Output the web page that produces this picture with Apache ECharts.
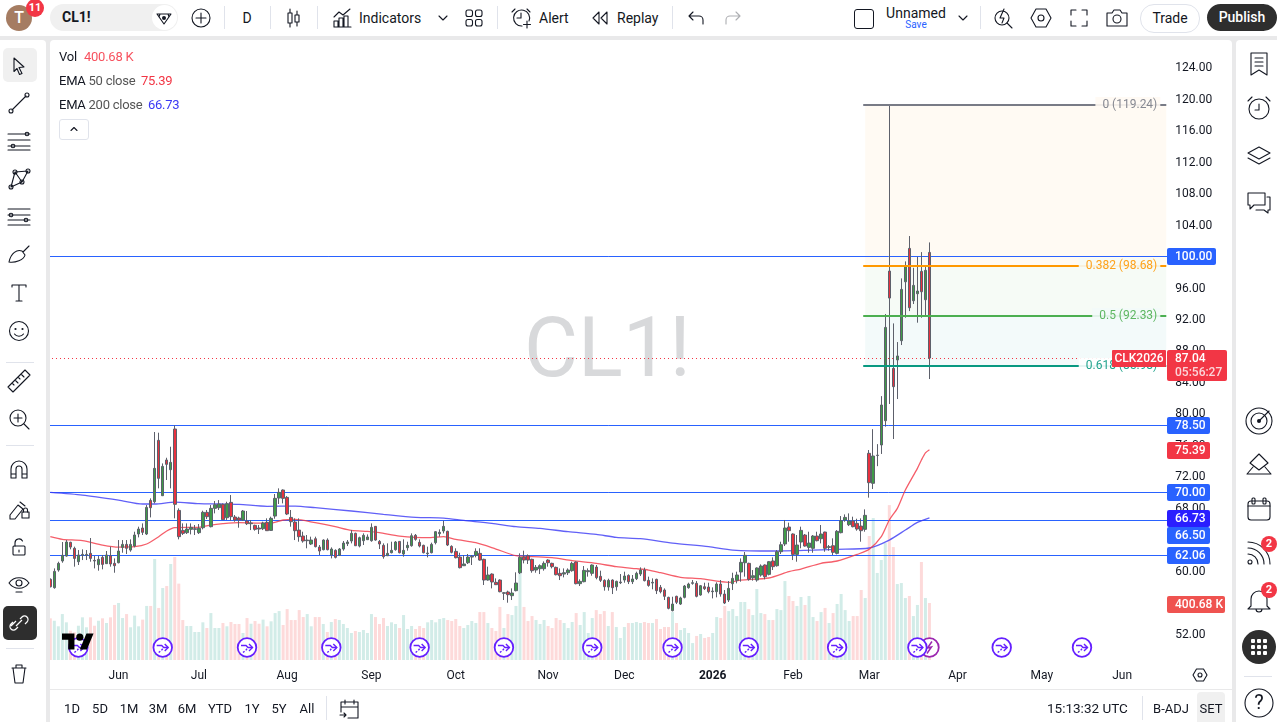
<!DOCTYPE html>
<html>
<head>
<meta charset="utf-8">
<title>CL1! daily</title>
<script src="https://cdn.jsdelivr.net/npm/echarts@6/dist/echarts.min.js"></script>
<style>
html,body{margin:0;padding:0;width:1277px;height:722px;overflow:hidden;background:#e9e9ea;font-family:Roboto,"Noto Sans",sans-serif;color:#131722}
.abs{position:absolute}
#pane{position:absolute;left:50px;top:40px;width:1182px;height:682px;background:#fff;border-radius:4px 4px 0 0}
#chart{position:absolute;left:0;top:0;width:1277px;height:722px;z-index:1}
#ui{position:absolute;left:0;top:0;width:1277px;height:722px;z-index:2;pointer-events:none}
.t{position:absolute;white-space:nowrap;line-height:1}
.sep{position:absolute;background:#e0e3eb}
svg{position:absolute;overflow:visible}
svg .s{fill:none;stroke:#131722;stroke-width:1.1;stroke-linecap:round;stroke-linejoin:round}
svg .f{fill:#131722;stroke:none}
</style>
</head>
<body>
<div id="pane"></div>
<div id="chart"></div>
<div id="ui"></div>
<script>
// Daily crude oil futures: [open, close, low, high] per session
const candles = [
[58.92,57.98,57.90,59.04],[57.86,59.93,57.73,60.31],[60.10,60.95,59.89,61.16],[61.25,61.97,61.03,63.66],[61.88,63.66,61.80,63.91],
[63.62,63.02,62.73,63.70],[62.86,61.58,60.53,63.07],[61.16,62.01,60.74,62.64],[61.97,62.09,61.37,62.73],[61.97,62.09,61.37,62.64],
[62.22,61.58,61.16,64.17],[61.33,61.25,60.31,61.88],[60.78,61.46,60.02,61.88],[61.71,60.82,60.19,62.01],[60.91,62.01,60.87,62.52],
[61.92,60.87,60.53,63.07],[60.95,60.65,59.76,61.58],[61.03,62.52,60.95,63.91],[62.98,63.36,62.30,63.91],[63.36,62.86,62.14,63.91],
[62.64,63.36,62.43,64.00],[63.15,64.55,62.98,64.97],[64.68,65.31,64.25,65.61],[65.44,64.89,64.55,66.03],[64.68,68.06,64.55,68.36],
[68.95,68.02,66.79,69.21],[68.78,73.02,68.57,77.64],[76.58,71.75,70.48,77.55],[69.55,73.27,69.50,73.65],[74.08,73.53,71.54,74.37],
[72.85,73.78,70.48,75.77],[78.02,68.45,66.67,78.48],[67.68,64.34,64.00,67.94],[65.14,64.76,64.55,66.03],[64.85,65.31,64.68,66.03],
[65.27,65.52,64.63,66.03],[65.27,65.35,64.55,65.82],[64.85,65.40,64.68,65.95],[65.48,67.43,65.27,67.64],[67.43,66.88,66.58,67.73],
[65.61,67.94,65.52,68.36],[67.94,68.40,67.30,68.87],[68.02,68.49,67.73,68.99],[68.45,66.50,66.46,68.57],[66.75,68.53,66.46,68.78],
[68.70,66.88,66.37,69.63],[66.84,66.46,66.24,67.09],[66.71,66.46,65.48,66.88],[66.46,67.60,66.37,67.73],[66.33,65.99,65.82,67.60],
[65.99,66.07,65.18,66.46],[65.78,65.27,65.10,65.86],[65.44,65.31,64.68,65.82],[65.35,66.07,65.18,66.24],[66.16,65.10,65.06,66.67],
[65.14,66.67,65.06,66.88],[66.96,69.21,66.62,69.76],[69.25,69.97,68.49,70.48],[70.27,69.21,68.57,70.35],[69.33,67.22,67.09,69.50],
[66.79,66.24,65.61,67.73],[66.20,65.10,63.91,66.67],[65.18,64.34,63.70,66.67],[64.42,63.79,63.58,64.97],[63.83,63.91,62.86,64.55],
[63.41,63.91,63.28,64.34],[64.08,63.07,62.98,64.34],[63.02,62.52,62.01,63.28],[62.69,63.91,62.60,64.00],[63.91,62.69,62.60,64.13],
[62.01,62.77,61.58,62.98],[62.60,61.71,61.58,62.73],[61.97,62.77,61.88,62.90],[62.77,63.53,62.56,63.79],[63.45,63.66,63.15,63.91],
[63.79,64.76,63.49,65.18],[64.76,63.19,63.15,64.85],[63.15,64.21,62.98,64.34],[63.83,64.51,63.28,64.76],[63.96,64.30,63.91,64.63],
[63.83,65.52,63.70,66.03],[65.65,63.91,63.83,65.69],[63.74,63.41,62.77,63.91],[63.24,61.80,61.54,63.49],[61.92,62.22,61.88,63.49],
[62.30,62.60,62.22,63.70],[62.69,63.66,62.56,63.79],[63.74,62.30,62.22,63.79],[62.14,62.60,61.80,64.00],[62.94,63.24,62.56,63.70],
[63.19,64.46,63.07,64.76],[64.51,64.00,63.83,64.68],[63.62,63.15,62.98,64.00],[63.24,62.30,62.22,63.32],[62.18,62.26,61.71,63.07],
[62.30,63.36,62.22,63.58],[63.58,64.97,63.36,65.06],[64.72,64.89,64.34,65.27],[65.06,65.65,64.76,66.37],[65.02,63.28,63.15,65.10],
[63.11,62.35,62.22,63.24],[62.47,61.67,61.58,62.86],[61.75,60.40,60.31,62.30],[60.65,60.87,60.61,62.01],[61.03,61.75,60.87,62.14],
[61.75,61.84,60.74,62.01],[61.97,62.47,61.71,62.86],[62.22,61.37,61.29,62.86],[61.46,58.83,58.20,61.54],[58.83,59.47,58.75,60.53],
[59.59,58.58,57.77,59.68],[58.54,58.24,58.20,59.04],[58.83,57.35,57.27,58.92],[57.14,57.22,56.29,57.31],[57.31,56.97,55.95,57.48],
[56.84,57.18,56.29,57.77],[57.48,58.45,57.39,59.81],[59.76,61.71,59.59,62.22],[61.75,61.37,60.95,62.56],[61.92,61.37,60.87,62.09],
[61.46,60.02,59.76,61.54],[60.10,60.44,59.76,60.74],[60.27,60.65,59.59,60.82],[60.27,60.95,60.02,61.20],[61.37,61.03,60.53,61.46],
[60.95,60.53,60.31,61.03],[60.44,59.51,59.42,60.53],[59.68,59.38,58.83,60.31],[59.59,59.76,59.17,60.31],[59.76,60.10,59.47,60.31],
[60.02,60.95,59.89,61.16],[61.12,58.37,58.28,61.20],[58.37,58.66,58.07,58.92],[58.62,60.06,58.54,60.61],[59.89,60.02,59.26,60.31],
[59.68,60.74,59.38,60.82],[60.48,59.13,58.92,60.74],[59.30,58.79,58.58,60.02],[58.79,57.98,57.48,58.92],[57.94,58.79,57.48,59.00],
[58.83,57.86,57.05,58.92],[57.98,58.66,57.48,58.75],[58.49,58.58,58.32,59.59],[58.83,59.34,58.49,59.89],[59.42,58.62,58.32,59.55],
[58.62,58.96,58.32,59.47],[59.00,59.68,58.83,59.89],[59.59,60.10,59.34,60.44],[60.10,58.75,58.66,60.40],[58.79,58.15,57.98,59.26],
[58.45,58.54,57.65,59.04],[58.92,57.48,57.05,59.00],[57.90,57.35,57.14,58.20],[57.56,56.76,56.29,57.77],[56.63,55.23,55.11,56.71],
[54.94,55.78,54.85,56.71],[56.76,56.00,55.78,56.84],[55.78,56.55,55.66,56.71],[56.63,58.07,56.50,58.20],[57.86,58.32,57.73,58.49],
[58.41,58.49,58.24,58.83],[58.41,56.76,56.63,58.70],[56.93,58.11,56.84,58.20],[57.98,57.73,57.56,58.49],[57.94,57.35,57.14,58.49],
[57.35,57.43,56.50,57.90],[57.35,58.32,56.63,58.54],[58.32,57.05,56.72,58.83],[57.05,55.91,55.78,57.56],[56.29,57.77,56.04,58.70],
[58.37,59.04,57.56,59.76],[58.79,59.47,58.41,59.89],[59.85,61.08,58.62,61.58],[61.03,61.97,59.26,62.39],[60.95,58.92,58.75,61.03],
[59.13,59.38,58.75,60.10],[58.83,60.36,58.62,60.44],[59.47,60.61,59.26,60.82],[60.74,59.26,58.92,60.82],[59.55,61.16,59.42,61.25],
[61.25,60.53,60.10,61.71],[60.65,62.43,60.53,62.64],[62.43,63.32,62.14,63.70],[63.41,65.44,63.15,66.46],[65.57,65.10,63.70,66.12],
[64.68,62.09,61.37,64.76],[62.09,63.28,61.16,64.55],[63.66,65.14,62.86,65.61],[64.55,63.15,63.07,64.68],[62.98,63.53,62.30,64.97],
[62.86,64.42,62.30,64.55],[64.42,63.83,63.74,64.97],[64.08,64.68,63.49,65.82],[64.93,62.86,62.43,64.97],[62.98,63.07,62.56,63.28],
[63.19,62.35,62.01,64.13],[62.22,65.02,62.09,65.18],[64.85,66.37,64.76,66.96],[66.46,66.79,66.24,67.17],[65.86,66.33,65.69,67.30],
[66.33,65.61,65.52,66.88],[66.03,65.31,65.10,66.62],[65.69,65.10,63.70,66.67],[65.27,67.05,64.97,67.81],[74.93,71.20,69.30,75.35],
[71.12,74.59,70.40,78.00],[74.65,74.70,73.30,76.10],[75.99,81.07,74.85,82.20],[79.08,90.93,78.32,92.63],[98.09,94.66,81.20,119.24],
[85.73,83.40,76.75,91.44],[86.80,87.30,81.83,89.07],[89.24,95.76,88.69,97.16],[96.73,98.73,92.16,99.32],[100.97,93.43,93.00,102.54],
[94.32,96.27,93.90,98.51],[95.21,95.55,91.53,99.91],[98.05,95.46,92.16,100.50],[94.45,98.18,92.50,98.85],[100.46,87.04,84.37,101.73]
];

// Session volume, thousands of contracts
const volumes = [
293,276,237,323,265,206,194,241,300,230,300,241,276,293,260,300,387,401,295,323,
230,312,237,284,380,380,710,366,506,520,675,724,537,281,239,239,197,197,265,225,
330,225,225,260,237,267,253,253,190,295,255,274,255,284,237,272,330,344,246,358,
281,281,351,302,323,237,302,302,253,197,267,288,281,253,225,190,204,197,211,190,
323,302,253,295,239,265,253,225,316,218,239,218,239,225,265,281,265,288,295,281,
274,288,239,225,246,274,260,337,337,260,225,204,373,225,323,316,380,619,373,274,
309,281,253,281,239,225,295,281,260,225,267,330,246,337,190,295,351,323,344,239,
337,232,155,232,260,260,267,260,267,260,260,288,218,232,232,337,260,211,225,190,
119,169,183,155,162,190,302,295,380,344,358,309,408,408,358,316,499,330,323,281,
281,358,351,555,450,415,380,443,387,450,302,274,337,366,260,330,394,464,351,274,
309,309,492,436,872,998,612,703,822,1089,794,534,541,436,450,309,387,689,436,400.68
];

// Moving averages as read at session index: [index, value]
const ema50 = [
[0,64.34],[3,64.00],[8,63.83],[13,63.28],[17,63.02],[21,63.07],[24,63.41],[27,64.34],[29,65.06],[31,65.48],[34,65.52],[37,65.52],
[40,65.82],[43,65.99],[47,66.12],[52,66.07],[55,66.07],[58,66.46],[61,66.54],[66,66.12],[71,65.61],[75,65.14],[79,65.01],[82,64.85],
[87,64.42],[94,64.21],[98,64.34],[101,63.99],[106,63.57],[111,62.77],[116,61.92],[120,61.80],[125,61.67],[130,61.29],[136,60.95],
[141,60.53],[146,60.27],[149,60.10],[152,59.76],[157,59.17],[162,59.00],[169,58.54],[172,58.83],[179,59.09],[184,59.89],[187,60.23],
[192,60.95],[196,61.25],[201,62.09],[204,62.73],[207,64.34],[209,66.46],[211,67.94],[213,70.27],[216,73.02],[217,74.08],[218,75.00],[219,75.39]
];
const ema200 = [
[0,69.97],[8,69.63],[17,68.99],[23,68.49],[26,68.49],[31,68.74],[37,68.53],[42,68.49],[47,68.45],[54,68.19],[61,68.23],[66,68.02],[75,67.60],
[83,67.17],[91,66.79],[98,66.71],[103,66.41],[110,66.03],[116,65.61],[122,65.40],[129,64.97],[136,64.63],[141,64.25],[147,64.08],[155,63.53],
[164,63.07],[170,62.64],[180,62.52],[188,62.60],[196,62.73],[204,62.90],[209,63.91],[213,65.18],[216,66.16],[219,66.73]
];

// Price scale tick labels
const priceTicks = [124,120,116,112,108,104,100,96,92,88,84,80,76,72,68,64,60,56,52];

// Time scale: first session of each month, plus the empty sessions to the right
const sessionSlots = 279;
const monthTicks = {17:'Jun',37:'Jul',59:'Aug',80:'Sep',101:'Oct',124:'Nov',143:'Dec',165:'2026',185:'Feb',204:'Mar',226:'Apr',247:'May',267:'Jun'};
const categories = Array.from({length: sessionSlots}, (_, i) => monthTicks[i] || '');

// Horizontal support and resistance levels
const levels = [100, 78.5, 70, 66.5, 62.06];
const lastClose = 87.04;
const lastEma50 = 75.39;
const lastEma200 = 66.73;
const lastVolume = 400.68;

// Fibonacci retracement: [ratio label, price, line colour, fill below, text background]
const fibs = [
  ['0', 119.24, '#787b86', '#fffaf3', '#fffaf3'],
  ['0.382', 98.68, '#ff9800', '#f6fbf6', '#f6fbf6'],
  ['0.5', 92.33, '#4caf50', '#f3fafa', '#f3fafa'],
  ['0.618', 85.98, '#089981', null, '#ffffff']
];
const fibStart = 203;

// Axis tags down the price scale, highest first
const priceTags = [
  [100, '100.00', '#2962ff'],
  [78.5, '78.50', '#2962ff'],
  [lastEma50, '75.39', '#f23645'],
  [70, '70.00', '#2962ff'],
  [lastEma200, '66.73', '#2a1eff'],
  [66.5, '66.50', '#2962ff'],
  [62.06, '62.06', '#2962ff']
];

// Dividend-style event markers along the time scale
const eventSessions = [7,28,49,70,92,113,135,155,174,196,216,237,257];
const earningsSession = 219;

const RED = '#f23645';
const chart = echarts.init(document.getElementById('chart'));
const FONT = 'Roboto, "Noto Sans", sans-serif';

function priceY(api, p){ return api.coord([0, p])[1]; }

let tagBottom = -1e9;

chart.setOption({
  animation: false,
  backgroundColor: 'transparent',
  grid: {left: 48.3, top: 40, width: 1120, height: 620, containLabel: false},
  graphic: [{
    type: 'text', z: 0, silent: true, left: 524, top: 314,
    style: {text: 'CL1!', fill: '#d8d9db', font: '400 83px ' + FONT}
  }],
  xAxis: {
    type: 'category', data: categories, boundaryGap: true,
    axisLine: {show: false}, axisTick: {show: false}, splitLine: {show: false},
    axisLabel: {
      interval: (i, v) => v !== '', margin: 10, color: '#131722', fontSize: 12, fontFamily: FONT,
      formatter: v => v === '2026' ? '{y|2026}' : v,
      rich: {y: {fontWeight: 700, fontSize: 12, fontFamily: FONT, color: '#131722'}}
    }
  },
  yAxis: [{
    type: 'value', position: 'right', min: 48.67, max: 127.45,
    axisLine: {show: false}, axisTick: {show: false}, splitLine: {show: false},
    axisLabel: {
      customValues: priceTicks, margin: 7, formatter: v => '{p|' + v.toFixed(2) + '}',
      rich: {p: {color: '#131722', fontSize: 12, fontFamily: FONT, padding: [2, 0, 0, 0]}}
    }
  }, {
    type: 'value', show: false, min: 0, max: 4359, splitLine: {show: false}
  }],
  series: [
    {
      name: 'Vol', type: 'bar', yAxisIndex: 1, barWidth: 3, z: 1, silent: true,
      data: volumes.map((v, i) => ({value: v, itemStyle: {color: candles[i][1] >= candles[i][0] ? '#d2ece8' : '#fddada'}}))
    },
    {
      // Fibonacci bands
      type: 'custom', z: 1, silent: true, clip: false,
      data: fibs.slice(0, 3).map((f, i) => [fibStart, f[1], fibs[i + 1][1]]),
      encode: {x: 0, y: 1},
      renderItem(params, api) {
        const a = api.coord([fibStart, api.value(1)]);
        const b = api.coord([sessionSlots - 1, api.value(2)]);
        return {type: 'rect', shape: {x: a[0], y: a[1], width: b[0] - a[0], height: b[1] - a[1]},
          style: {fill: fibs[params.dataIndex][3]}};
      }
    },
    {
      name: 'EMA 200', type: 'line', data: ema200, connectNulls: true, showSymbol: false, symbol: 'none', z: 3, silent: true,
      smooth: 0.25, lineStyle: {color: '#3a38f5', width: 1.3, opacity: 0.8}
    },
    {
      name: 'EMA 50', type: 'line', data: ema50, connectNulls: true, showSymbol: false, symbol: 'none', z: 3, silent: true,
      smooth: 0.25, lineStyle: {color: '#f23645', width: 1.3, opacity: 0.8}
    },
    {
      // Level lines and the dotted last price line
      type: 'custom', z: 2, silent: true, clip: true,
      data: levels.map(p => [0, p]).concat([[0, lastClose]]),
      encode: {x: 0, y: 1},
      renderItem(params, api) {
        const y = Math.round(priceY(api, api.value(1))) + 0.5;
        const isLast = params.dataIndex === levels.length;
        const g = params.coordSys;
        return {type: 'line', shape: {x1: Math.round(g.x), y1: y, x2: isLast ? Math.round(g.x) + 1065 : g.x + g.width, y2: y},
          style: {stroke: isLast ? RED : '#2962ff', lineWidth: 1, lineDash: isLast ? [1, 3] : null}};
      }
    },
    {
      name: 'CL1!', type: 'candlestick', z: 4, barWidth: 3, large: false, silent: true, data: candles,
      itemStyle: {color: '#3f9b48', color0: '#e8323f', borderColor: '#5d606b', borderColor0: '#5d606b', borderWidth: 1}
    },
    {
      // Fibonacci lines with their right-hand captions
      type: 'custom', z: 5, silent: true, clip: false,
      data: fibs.map(f => [fibStart, f[1]]),
      encode: {x: 0, y: 1},
      renderItem(params, api) {
        const f = fibs[params.dataIndex];
        const half = api.size([1, 0])[0] / 2;
        const l = api.coord([fibStart, f[1]]);
        const r = api.coord([sessionSlots - 1, f[1]]);
        const y = Math.round(l[1]);
        const caption = f[0] + ' (' + f[1].toFixed(2) + ')';
        return {type: 'group', children: [
          {type: 'rect', shape: {x: l[0] - half, y: y - 1, width: r[0] - l[0] + half, height: 2}, style: {fill: f[2]}},
          {type: 'text', x: r[0] - 6, y: y, style: {text: caption, fill: f[2], opacity: 0.9, font: '12px ' + FONT, align: 'right', verticalAlign: 'middle',
            backgroundColor: f[4], padding: [2, 3, 2, 7]}}
        ]};
      }
    },
    {
      // Event markers
      type: 'custom', yAxisIndex: 1, z: 6, silent: true, clip: false,
      data: [[earningsSession, 91]].concat(eventSessions.map(i => [i, 91])),
      encode: {x: 0, y: 1},
      renderItem(params, api) {
        const c = api.coord([api.value(0), api.value(1)]);
        const lightning = params.dataIndex === 0;
        const col = lightning ? '#9c27b0' : '#651fff';
        const kids = [{type: 'circle', shape: {cx: 0, cy: 0, r: 9.3}, style: {fill: '#fff', stroke: col, lineWidth: 1.8}}];
        if (lightning) {
          kids.push({type: 'polyline', shape: {points: [[2.5, -6], [-2, 0.5], [2, -0.5], [-2.5, 6]]}, style: {fill: 'none', stroke: col, lineWidth: 1.5}});
        } else {
          kids.push({type: 'polyline', shape: {points: [[-6, -2], [-1, -2], [1, 0], [5.5, 0]]}, style: {fill: 'none', stroke: col, lineWidth: 1.4}});
          kids.push({type: 'polyline', shape: {points: [[2, -3.5], [5.5, 0], [2, 3.5]]}, style: {fill: 'none', stroke: col, lineWidth: 1.4}});
          kids.push({type: 'polyline', shape: {points: [[-4, 5], [-1, 2.5], [1, 0]]}, style: {fill: 'none', stroke: col, lineWidth: 1.4, lineDash: [2, 1.5]}});
        }
        return {type: 'group', x: c[0], y: Math.round(c[1]) + 0.5, children: kids};
      }
    },
    {
      // Price scale tags, pushed down when two would overlap
      type: 'custom', z: 8, silent: true, clip: false,
      data: priceTags.map(t => [0, t[0]]),
      encode: {x: 0, y: 1},
      renderItem(params, api) {
        if (params.dataIndex === 0) tagBottom = -1e9;
        const t = priceTags[params.dataIndex];
        const h = 17;
        let top = Math.round(priceY(api, t[0])) - 8;
        if (top < tagBottom) top = tagBottom;
        tagBottom = top + h;
        const x = 1167;
        return {type: 'group', children: [
          {type: 'rect', shape: {x, y: top, width: 13 + t[1].length * 6, height: h, r: 2}, style: {fill: t[2]}},
          {type: 'text', x: x + 8, y: top + h / 2 + 0.5, style: {text: t[1], fill: '#fff', font: '500 12px ' + FONT, verticalAlign: 'middle'}}
        ]};
      }
    },
    {
      // Last price tag with countdown and contract name
      type: 'custom', z: 9, silent: true, clip: false,
      data: [[0, lastClose]],
      encode: {x: 0, y: 1},
      renderItem(params, api) {
        const top = Math.round(priceY(api, api.value(1))) - 8;
        return {type: 'group', children: [
          {type: 'rect', shape: {x: 1112, y: top, width: 54, height: 17, r: 1}, style: {fill: RED}},
          {type: 'text', x: 1139, y: top + 9, style: {text: 'CLK2026', fill: '#fff', font: '500 12px ' + FONT, align: 'center', verticalAlign: 'middle'}},
          {type: 'rect', shape: {x: 1167, y: top, width: 60, height: 31, r: 2}, style: {fill: RED}},
          {type: 'text', x: 1175, y: top + 9, style: {text: lastClose.toFixed(2), fill: '#fff', font: '500 12px ' + FONT, verticalAlign: 'middle'}},
          {type: 'text', x: 1175, y: top + 23, style: {text: '05:56:27', fill: '#fbd5d9', font: '500 12px ' + FONT, verticalAlign: 'middle'}}
        ]};
      }
    },
    {
      // Volume tag on the price scale
      type: 'custom', yAxisIndex: 1, z: 8, silent: true, clip: false,
      data: [[0, lastVolume]],
      encode: {x: 0, y: 1},
      renderItem(params, api) {
        const top = Math.round(api.coord([0, api.value(1)])[1]) - 7;
        return {type: 'group', children: [
          {type: 'rect', shape: {x: 1167, y: top, width: 58, height: 17, r: 2}, style: {fill: '#ef5350'}},
          {type: 'text', x: 1175, y: top + 9, style: {text: lastVolume.toFixed(2) + ' K', fill: '#fff', font: '500 12px ' + FONT, verticalAlign: 'middle'}}
        ]};
      }
    }
  ]
});

// ---- Window furniture around the chart ----
const ui = document.getElementById('ui');
function el(html){ ui.insertAdjacentHTML('beforeend', html); }
function box(x, y, w, h, bg, extra){ el(`<div class="abs" style="left:${x}px;top:${y}px;width:${w}px;height:${h}px;background:${bg};${extra||''}"></div>`); }
function text(s, x, cy, size, col, extra){ el(`<div class="t" style="left:${x}px;top:${cy - size/2 - 0.5}px;font-size:${size}px;color:${col||'#131722'};${extra||''}">${s}</div>`); }
function ctext(s, cx, cy, size, col, extra){ el(`<div class="t" style="left:${cx - 60}px;width:120px;text-align:center;top:${cy - size/2 - 0.5}px;font-size:${size}px;color:${col||'#131722'};${extra||''}">${s}</div>`); }
function icon(cx, cy, inner){ el(`<svg style="left:${cx}px;top:${cy}px" width="1" height="1">${inner}</svg>`); }
function badge(cx, cy, n, r){ el(`<div class="t" style="left:${cx-r}px;top:${cy-r}px;width:${2*r}px;height:${2*r}px;line-height:${2*r}px;border-radius:50%;background:#f23645;color:#fff;text-align:center;font-size:11px;font-weight:700">${n}</div>`); }
function sepV(x, y, h){ el(`<div class="sep" style="left:${x}px;top:${y}px;width:1px;height:${h}px"></div>`); }
function sepH(x, y, w){ el(`<div class="sep" style="left:${x}px;top:${y}px;width:${w}px;height:1px"></div>`); }
const S = 'class="s"';

// Bars around the pane
box(0, 0, 1277, 36, '#fff');
box(0, 36, 1277, 4, '#e9e9ea');
box(0, 40, 46, 682, '#fff', 'border-radius:0 4px 0 0');
box(46, 36, 4, 686, '#e9e9ea');
box(1232, 36, 4, 686, '#e9e9ea');
box(1236, 40, 41, 682, '#fff', 'border-radius:4px 0 0 0');
box(50, 689, 1182, 1, '#e9e9ea');

// Top bar
el(`<div class="abs" style="left:6px;top:5px;width:26px;height:26px;border-radius:50%;background:#a57c62"></div>`);
ctext('T', 19, 18, 16, '#fff', 'font-weight:500');
badge(35, 8, '11', 9);
box(50, 4, 128, 27, '#f0f0f0', 'border-radius:14px');
text('CL1!', 62, 17.5, 14, '#131722', 'font-weight:700');
box(152, 5, 25, 25, '#fff', 'border-radius:50%');
icon(164, 18, `<path ${S} d="M-7-4H7L0 6Z M-4-4-5-1M4-4 5-1"/><circle class="f" r="2"/>`);
icon(201, 18, `<circle ${S} r="9"/><path ${S} d="M-5 0H5M0-5V5"/>`);
sepV(224, 6, 23);
ctext('D', 247, 18, 14);
sepV(270, 6, 23);
icon(293, 18, `<path ${S} d="M-5-5h4v10h-4zM-3-9v4M-3 5v4M2-3h4v7h-4zM4-7v4M4 4v4"/>`);
sepV(317, 6, 23);
icon(343, 18, `<path ${S} d="M-9 9V3h4v6zM-4 9V0h4v9zM1 9V-2h4V9zM-9 9H8M-9-1l5-5 4 3 7-6"/>`);
text('Indicators', 359, 18, 14);
icon(443, 18, `<path ${S} d="M-4-2 0 2 4-2"/>`);
icon(474, 18, `<rect ${S} x="-8" y="-8" width="6.5" height="6.5" rx="2"/><rect ${S} x="1.5" y="-8" width="6.5" height="6.5" rx="2"/><rect ${S} x="-8" y="1.5" width="6.5" height="6.5" rx="2"/><rect ${S} x="1.5" y="1.5" width="6.5" height="6.5" rx="2"/>`);
sepV(497, 6, 23);
icon(521, 18, `<path ${S} d="M8 3A8 8 0 1 0 1 8M0-5V0H-4M-9-6l3-3M9-6 6-9M6 3v7M2.500 6.500h7"/>`);
text('Alert', 539, 18, 14);
icon(600, 18, `<path ${S} d="M-1-6-7 0l6 6zM7-6 1 0l6 6z"/>`);
text('Replay', 617, 18, 14);
sepV(672, 6, 23);
icon(696, 18, `<path ${S} d="M-3-6-7-2l4 4M-7-2H3a4 4 0 0 1 4 4v4"/>`);
el(`<svg style="left:733px;top:18px;opacity:.35" width="1" height="1"><path ${S} d="M3-6 7-2 3 2M7-2H-3a4 4 0 0 0-4 4v4"/></svg>`);
el(`<div class="abs" style="left:854px;top:9px;width:18px;height:18px;border:1.2px solid #131722;border-radius:3px"></div>`);
ctext('Unnamed', 916, 13, 14);
ctext('Save', 916, 25, 10, '#2962ff');
icon(963, 18, `<path ${S} d="M-4-2 0 2 4-2"/>`);
sepV(980, 6, 23);
icon(1003, 18, `<circle ${S} cx="-1" cy="0" r="7"/><path ${S} d="M4 5l5 5M1-9-3 0h4l-2 5"/>`);
icon(1041, 18, `<path ${S} d="M-10 0-5-9H5L10 0 5 9H-5Z"/><circle ${S} r="3"/>`);
icon(1079, 18, `<path ${S} d="M-8-3V-8H-3M3-8H8V-3M8 3V8H3M-3 8H-8V3"/>`);
icon(1117, 18, `<path ${S} d="M-10-5H-5L-3-8H3L5-5H10V8H-10Z"/><circle ${S} r="4" cy="1"/>`);
el(`<div class="t" style="left:1140px;top:4px;width:58px;height:27px;line-height:27px;border:1px solid #e0e3eb;border-radius:14px;text-align:center;font-size:14px">Trade</div>`);
el(`<div class="t" style="left:1207px;top:4px;width:70px;height:27px;line-height:27px;background:#2e2e2e;border-radius:14px;text-align:center;font-size:14px;color:#fff;font-weight:500">Publish</div>`);

// Pane legend
const TIGHT = 'letter-spacing:-0.25px';
text('Vol', 59, 57, 13, null, TIGHT);
text('400.68 K', 84, 57, 13, '#f7525f', TIGHT);
text('EMA <span style="color:#555">50 close</span>', 59, 81, 13, null, TIGHT);
text('75.39', 141, 81, 13, '#f23645', TIGHT);
text('EMA <span style="color:#555">200 close</span>', 59, 105, 13, null, TIGHT);
text('66.73', 148, 105, 13, '#3a38f5', TIGHT);
el(`<div class="abs" style="left:59px;top:119px;width:28px;height:19px;border:1px solid #e0e3eb;border-radius:3px;background:#fff"></div>`);
icon(73.500, 129, `<path ${S} d="M-3 1.500 0-1.500 3 1.500"/>`);

// Left drawing toolbar
box(3, 48, 34, 34, '#f0f0f0', 'border-radius:5px');
box(3, 606, 34, 34, '#2e2e2e', 'border-radius:5px');
const leftIcons = [
 [66,`<path ${S} d="M-5-8 5 1 0 1.500 3 7.500 .5 8.500-2 2.500-5 5.500Z"/>`],
 [103,`<path ${S} d="M-7 7 7-7"/><circle ${S} cx="-8" cy="8" r="2" fill="#fff"/><circle ${S} cx="8" cy="-8" r="2"/>`],
 [141,`<path ${S} d="M-11-7H11M-11-1H11M-11 5H11M-11 9H11"/><circle ${S} cx="8" cy="-7" r="1.800"/><circle ${S} cx="-6" cy="5" r="1.800"/>`],
 [179,`<path ${S} d="M-8 8-4-7 3 3 9-8M-8 8 3 3M-4-7 9-8"/><circle ${S} cx="-8" cy="8" r="2"/><circle ${S} cx="-4" cy="-7" r="2"/><circle ${S} cx="3" cy="3" r="2"/><circle ${S} cx="9" cy="-8" r="2"/>`],
 [217,`<path ${S} d="M-11-8H11M-11-2H11M-11 3H11M-11 8H11"/><circle ${S} cx="-8" cy="-2" r="1.800"/><circle ${S} cx="7" cy="3" r="1.800"/>`],
 [255,`<path ${S} d="M-10 7C-8-2-2-6 3-4L6 0C5 5-4 8-10 7ZM4-3 10-9"/>`],
 [293,`<path ${S} d="M-7-6V-8H7V-6M0-8V8M-3 8H3"/>`],
 [331,`<circle ${S} r="9.500"/><circle class="f" cx="-3.500" cy="-2" r="1.100"/><circle class="f" cx="3.500" cy="-2" r="1.100"/><path ${S} d="M-4.500 3C-2.500 6 2.500 6 4.500 3"/>`],
 [381,`<path ${S} d="M-11 6 6-11 11-6-6 11ZM-7 2-5 4M-4-1-1 2M-1-4 1-2M2-7 5-4"/>`],
 [419,`<circle ${S} cx="-1" cy="-1" r="8"/><path ${S} d="M5 5 10 10M-5-1H3M-1-5V3"/>`],
 [470,`<path ${S} d="M-8 8V-1A8 8 0 0 1 8-1V8H3V-1A3 3 0 0 0-3-1V8ZM-8 4H-3M3 4H8"/>`],
 [509,`<path ${S} d="M-9 6-1-4 4 0-4 10H-9ZM1-7 6-3"/><rect ${S} x="3" y="3" width="7" height="6"/><path ${S} d="M4.500 3V1a2 2 0 0 1 4 0v2"/>`],
 [547,`<rect ${S} x="-6" y="-1" width="12" height="9" rx="1"/><path ${S} d="M-4-1V-4A4 4 0 0 1 3.500-6M0 3V5"/>`],
 [583,`<path ${S} d="M-10 0C-5-7 5-7 10 0 5 7-5 7-10 0Z"/><circle ${S} r="3"/><path ${S} d="M-3 9H3"/>`],
 [674,`<path ${S} d="M-7-6H7M-3-6V-9H3V-6M-6-6-4 9H4L6-6"/>`]
];
leftIcons.forEach(([y, d]) => icon(19, y, d));
icon(19, 623, `<path d="M-8 3-3-2M-1 4-3 6A3.500 3.500 0 0 1-8 1L-6-1M1-4 3-6A3.500 3.500 0 0 1 8-1L6 1M-3 3 3-3" fill="none" stroke="#fff" stroke-width="1.200"/>`);
sepH(6, 362, 28);
sepH(6, 445, 28);
sepH(6, 648, 28);

// Right toolbar
const rightIcons = [
 [64,`<path ${S} d="M-8-11H8V11L0 6-8 11ZM-4-6H4M-4-2H4M-4 2H4"/>`],
 [108,`<circle ${S} r="10" cy="1"/><path ${S} d="M0-4V2H-4M-11-7-7-11M11-7 7-11"/>`],
 [156,`<path ${S} d="M0-9 11-3 0 3-11-3ZM-11 2 0 8 11 2"/>`],
 [202,`<path ${S} d="M-11-9H6V3H-5L-9 7V3H-11ZM8-5H11V8H9V11L5 8H-3"/>`],
 [421,`<circle ${S} r="13"/><circle ${S} r="8"/><circle class="f" r="2"/><path ${S} d="M0 0 10-10"/>`],
 [465,`<path ${S} d="M0-11 9-2 0 5-9-2ZM-6 2-12 9H12L6 2"/>`],
 [509,`<rect ${S} x="-11" y="-8" width="22" height="19" rx="3"/><path ${S} d="M-11-3H11"/><rect ${S} x="-7" y="-11" width="3" height="6" rx="1"/><rect ${S} x="4" y="-11" width="3" height="6" rx="1"/>`],
 [553,`<circle ${S} cx="-9" cy="9" r="2"/><path ${S} d="M-11 1A10 10 0 0 1-1 11M-11-5A16 16 0 0 1 5 11M-11-11A22 22 0 0 1 11 11"/>`],
 [600,`<path ${S} d="M-8 6V-1A8 8 0 0 1 8-1V6L11 9H-11ZM-3 9A3 3 0 0 0 3 9"/>`]
];
rightIcons.forEach(([y, d]) => icon(1259, y, d));
badge(1269, 544, '2', 8);
badge(1269, 590, '2', 8);
el(`<div class="abs" style="left:1242px;top:630px;width:34px;height:34px;border-radius:50%;background:#2e2e2e"></div>`);
icon(1259, 647, [-6,0,6].flatMap(a => [-6,0,6].map(b => `<rect x="${a-2}" y="${b-2}" width="4" height="4" rx="1" fill="#fff"/>`)).join(''));
sepH(1244, 676, 28);
icon(1259, 703, `<circle ${S} r="14"/>`);
ctext('?', 1259, 702, 20);

// Logo in the lower left of the pane
el(`<svg style="left:62px;top:630px" width="32" height="25" viewBox="0 0 36 28"><path fill="#000" d="M14 22H7V11H0V4h14v18zM28 22h-8l7.500-18h8L28 22z"/><circle fill="#000" cx="20" cy="8" r="4"/></svg>`);

// Gear at the end of the time scale
icon(1200, 675, `<path ${S} d="M-7 0-3.500-6H3.500L7 0 3.500 6H-3.500Z"/><circle ${S} r="2"/>`);

// Bottom bar
[['1D',72],['5D',100],['1M',129],['3M',158],['6M',187],['YTD',220],['1Y',252],['5Y',279],['All',307]].forEach(([s, x]) => ctext(s, x, 709, 13));
sepV(326, 696, 24);
icon(349, 709, `<path ${S} d="M-8-2H9M-4-9V-5M5-9V-5M-8 3V-7H9V9H-1M-9 6H-3M-5 4l2 2-2 2"/>`);
text('15:13:32 UTC', 1047, 709, 13.500);
sepV(1142, 696, 24);
ctext('B-ADJ', 1171, 709, 13);
box(1197, 692, 28, 30, '#f0f0f0', 'border-radius:4px 4px 0 0');
ctext('SET', 1211, 709, 13);
</script>
</body>
</html>
